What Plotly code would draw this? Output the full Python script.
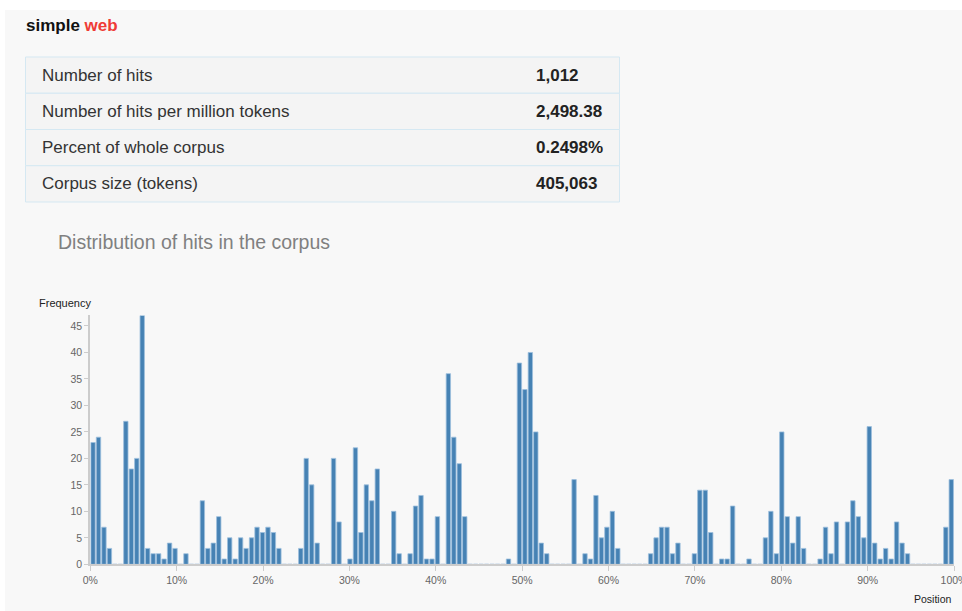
import plotly.graph_objects as go

# the figure fills the whole 962x611 page (body margin removed in write_html below)
W, H = 962, 611

# ---- data ----
title_main = "simple"
title_accent = "web"
stat_labels = ["Number of hits", "Number of hits per million tokens",
               "Percent of whole corpus", "Corpus size (tokens)"]
stat_values = ["1,012", "2,498.38", "0.2498%", "405,063"]
chart_title = "Distribution of hits in the corpus"

n_bins = 158
freq = [
    23, 24, 7, 3, 0, 0, 27, 18, 20, 47,
    3, 2, 2, 1, 4, 3, 0, 2, 0, 0,
    12, 3, 4, 9, 1, 5, 1, 5, 3, 5,
    7, 6, 7, 6, 3, 0, 0, 0, 3, 20,
    15, 4, 0, 0, 20, 8, 0, 1, 22, 6,
    15, 12, 18, 0, 0, 10, 2, 0, 2, 11,
    13, 1, 1, 9, 0, 36, 24, 19, 9, 0,
    0, 0, 0, 0, 0, 0, 1, 0, 38, 33,
    40, 25, 4, 2, 0, 0, 0, 0, 16, 0,
    2, 1, 13, 5, 7, 10, 3, 0, 0, 0,
    0, 0, 2, 5, 7, 7, 2, 4, 0, 0,
    2, 14, 14, 6, 0, 1, 1, 11, 0, 0,
    1, 0, 0, 5, 10, 2, 25, 9, 4, 9,
    3, 0, 0, 1, 7, 2, 8, 0, 8, 12,
    9, 5, 26, 4, 1, 3, 1, 8, 4, 2,
    0, 0, 0, 0, 0, 0, 7, 16,
]
x_tickvals = [0, 10, 20, 30, 40, 50, 60, 70, 80, 90, 100]
x_ticktext = ["0%", "10%", "20%", "30%", "40%", "50%", "60%", "70%", "80%", "90%", "100%"]
y_tickvals = [0, 5, 10, 15, 20, 25, 30, 35, 40, 45]

# bin centres in percent of corpus
bin_w = 100.0 / n_bins
positions = [(i + 0.5) * bin_w for i in range(n_bins)]


def X(px):
    return px / W


def Y(py):
    return 1 - py / H


FONT = "Arial, Liberation Sans, sans-serif"

fig = go.Figure()
fig.add_trace(go.Bar(
    x=positions, y=freq,
    marker=dict(color="#4682b4", line=dict(color="#9dbfdd", width=0.8)),
    hoverinfo="x+y",
))

shapes = []
# grey page panel
shapes.append(dict(type="rect", xref="paper", yref="paper",
                   x0=X(5), x1=X(980), y0=Y(630), y1=Y(10),
                   fillcolor="#f8f8f8", line=dict(width=0), layer="below"))
# table
row_top = 57
row_h = 36.25
for i in range(len(stat_labels)):
    y0 = row_top + i * row_h
    shapes.append(dict(type="rect", xref="paper", yref="paper",
                       x0=X(25.5), x1=X(619.5), y0=Y(y0 + row_h), y1=Y(y0),
                       fillcolor="#f4f4f4", line=dict(color="#d5e8f2", width=1),
                       layer="below"))

annotations = []
annotations.append(dict(
    x=X(24), y=Y(26), xref="paper", yref="paper", xanchor="left", yanchor="middle",
    showarrow=False,
    text=f"<b>{title_main} <span style='color:#ef3b36'>{title_accent}</span></b>",
    font=dict(family=FONT, size=17, color="#111")))
for i, (lab, val) in enumerate(zip(stat_labels, stat_values)):
    yc = row_top + i * row_h + row_h / 2
    annotations.append(dict(x=X(40), y=Y(yc), xref="paper", yref="paper",
                            xanchor="left", yanchor="middle", showarrow=False,
                            text=lab, font=dict(family=FONT, size=17, color="#333")))
    annotations.append(dict(x=X(534), y=Y(yc), xref="paper", yref="paper",
                            xanchor="left", yanchor="middle", showarrow=False,
                            text=f"<b>{val}</b>", font=dict(family=FONT, size=17, color="#222")))
annotations.append(dict(x=X(56), y=Y(242), xref="paper", yref="paper",
                        xanchor="left", yanchor="middle", showarrow=False,
                        text=chart_title, font=dict(family=FONT, size=19.5, color="#808080")))
annotations.append(dict(x=X(37), y=Y(303), xref="paper", yref="paper",
                        xanchor="left", yanchor="middle", showarrow=False,
                        text="Frequency", font=dict(family=FONT, size=11, color="#222")))
annotations.append(dict(x=X(954), y=Y(599), xref="paper", yref="paper",
                        xanchor="right", yanchor="middle", showarrow=False,
                        text="Position", font=dict(family=FONT, size=10.5, color="#222")))

fig.update_layout(
    template="none",
    width=W, height=H,
    margin=dict(l=0, r=0, t=0, b=0, pad=0, autoexpand=False),
    paper_bgcolor="white",
    plot_bgcolor="rgba(0,0,0,0)",
    showlegend=False,
    bargap=0.2,
    hovermode=False,
    shapes=shapes,
    annotations=annotations,
    font=dict(family=FONT, size=10, color="#666"),
    xaxis=dict(domain=[X(90.3), X(954)], range=[0, 100], automargin=False,
               tickvals=x_tickvals, ticktext=x_ticktext, ticklabeloverflow="allow",
               showline=True, linecolor="#cccccc", linewidth=2,
               ticks="outside", ticklen=5, tickcolor="#cccccc", tickwidth=1,
               showgrid=False, zeroline=False, fixedrange=True,
               tickfont=dict(family=FONT, size=10.5, color="#666")),
    yaxis=dict(domain=[Y(564.3), Y(315.4)], range=[0, 47], automargin=False,
               tickvals=y_tickvals,
               showline=True, linecolor="#cccccc", linewidth=2,
               ticks="outside", ticklen=4, tickcolor="#cccccc", tickwidth=1,
               showgrid=False, zeroline=False, fixedrange=True,
               tickfont=dict(family=FONT, size=10.5, color="#666")),
)

fig.write_html(
    "out.html",
    config={"displayModeBar": False, "staticPlot": True},
    post_script="document.body.style.margin='0';document.body.style.overflow='hidden';",
)
